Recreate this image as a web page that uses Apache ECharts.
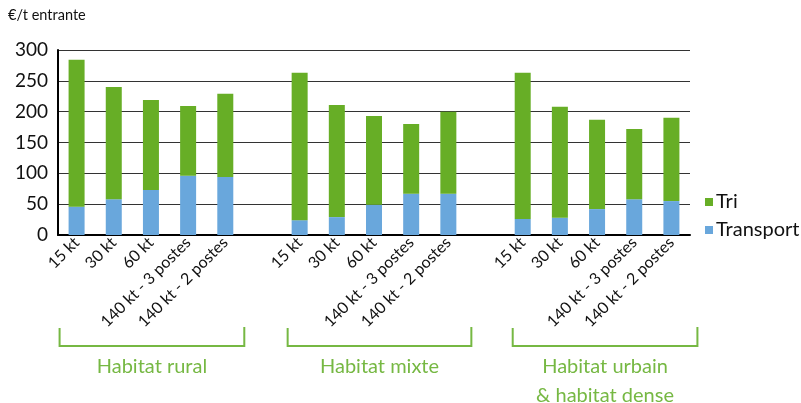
<!DOCTYPE html>
<html>
<head>
<meta charset="utf-8">
<script src="https://cdn.jsdelivr.net/npm/echarts@6/dist/echarts.min.js"></script>
<style>
html,body{margin:0;padding:0;background:#fff;}
#c{width:801px;height:403px;}
</style>
</head>
<body>
<div id="c"></div>
<script>
const groups = ['Habitat rural', 'Habitat mixte', 'Habitat urbain\n& habitat dense'];
const sizes = ['15 kt', '30 kt', '60 kt', '140 kt - 3 postes', '140 kt - 2 postes'];
const transportRural  = [46, 58, 73, 96, 94];
const transportMixte  = [24, 29, 49, 67, 67];
const transportUrbain = [26, 28, 42, 58, 55];
const totalRural  = [284, 240, 219, 209, 229];
const totalMixte  = [263, 211, 193, 180, 200];
const totalUrbain = [263, 208, 187, 172, 190];
const yTicks = [0, 50, 100, 150, 200, 250, 300];

const transportGroups = [transportRural, transportMixte, transportUrbain];
const totalGroups = [totalRural, totalMixte, totalUrbain];

const cats = [], transport = [], tri = [], groupRanges = [];
groups.forEach((g, gi) => {
  if (gi > 0) { cats.push(''); transport.push(null); tri.push(null); }
  const start = cats.length;
  sizes.forEach((s, i) => {
    cats.push(s);
    transport.push(transportGroups[gi][i]);
    tri.push(totalGroups[gi][i] - transportGroups[gi][i]);
  });
  groupRanges.push([start, cats.length - 1]);
});

const FONT = 'Lato, "Open Sans", sans-serif';
const GREEN = '#67ae26';
const BLUE = '#69a7dc';
const LABELGREEN = '#76b843';

const chart = echarts.init(document.getElementById('c'));
chart.setOption({
  animation: false,
  textStyle: { fontFamily: FONT },
  grid: { left: 58, right: 111, top: 50, bottom: 168, containLabel: false },
  legend: {
    orient: 'vertical',
    left: 700, top: 187,
    itemWidth: 8, itemHeight: 8, itemGap: 8,
    icon: 'rect',
    data: ['Tri', 'Transport'],
    textStyle: { fontSize: 20, color: '#111', fontFamily: FONT, padding: [0, 0, 0, -2] }
  },
  xAxis: {
    type: 'category',
    data: cats,
    axisLine: { lineStyle: { color: '#000', width: 2 } },
    axisTick: { show: false },
    axisLabel: { interval: 0, rotate: 45, fontSize: 16, color: '#111', margin: 5 }
  },
  yAxis: {
    type: 'value',
    min: yTicks[0], max: yTicks[yTicks.length - 1], interval: yTicks[1] - yTicks[0],
    axisLine: { show: true, lineStyle: { color: '#000', width: 2 } },
    axisTick: { show: false },
    axisLabel: { fontSize: 19, color: '#111', margin: 10 },
    splitLine: { lineStyle: { color: '#333', width: 1 } }
  },
  series: [
    { name: 'Transport', type: 'bar', stack: 's', data: transport, barWidth: 16,
      itemStyle: { color: BLUE } },
    { name: 'Tri', type: 'bar', stack: 's', data: tri, barWidth: 16,
      itemStyle: { color: GREEN } }
  ]
});

// Group brackets and labels aligned to category positions
const gfx = [{
  type: 'text', left: 8, top: 8,
  style: { text: '€/t entrante', fontSize: 14.5, fill: '#111', fontFamily: FONT }
}];
const leftPad = [17, 12, 10];
const rightPad = [19, 23, 26];
groupRanges.forEach((r, gi) => {
  const x0 = chart.convertToPixel({ xAxisIndex: 0 }, r[0]) - leftPad[gi];
  const x1 = chart.convertToPixel({ xAxisIndex: 0 }, r[1]) + rightPad[gi];
  gfx.push({
    type: 'polyline',
    shape: { points: [[x0, 328], [x0, 346], [x1, 346], [x1, 327]] },
    style: { stroke: LABELGREEN, lineWidth: 2, fill: null }
  });
  gfx.push({
    type: 'text', x: (x0 + x1) / 2, y: 352,
    style: { text: groups[gi], fontSize: 20, fill: LABELGREEN, fontFamily: FONT,
      align: 'center', verticalAlign: 'top', lineHeight: 29 }
  });
});
chart.setOption({ graphic: gfx });
</script>
</body>
</html>
